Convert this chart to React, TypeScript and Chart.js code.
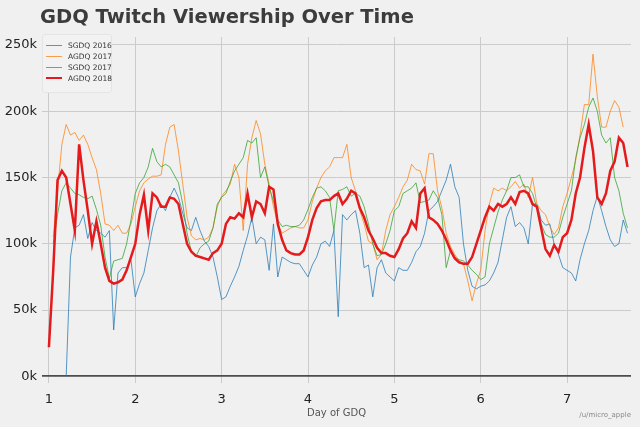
import { useEffect, useRef } from "react";
import { Chart, registerables } from "chart.js";

Chart.register(...registerables);

// x grid: every 0.05 day from day 1.00 to 7.70
const days = Array.from({ length: 135 }, (_, i) => +(1 + i * 0.05).toFixed(2));

const seriesNames = ["SGDQ 2016", "AGDQ 2017", "SGDQ 2017", "AGDQ 2018"];

// viewers, in thousands
const sgdq2016 = [
  null, null, null, null, 0, 90, 112, 114, 122, 104,
  116, 110, 108, 105, 110, 35, 78, 82, 82, 88,
  60, 70, 78, 95, 112, 125, 130, 125, 135, 142,
  135, 123, 112, 110, 120, 110, 102, 98, 90, 75,
  58, 60, 68, 75, 83, 95, 106, 120, 100, 105,
  103, 80, 115, 75, 90, 88, 86, 85, 85, 80,
  75, 84, 90, 100, 102, 98, 110, 45, 122, 118,
  122, 125, 108, 82, 84, 60, 82, 88, 78, 75,
  72, 82, 80, 80, 86, 94, 98, 108, 125, 128,
  132, 140, 148, 160, 143, 135, 100, 80, 68, 66,
  68, 69, 72, 78, 86, 103, 120, 128, 113, 116,
  112, 100, 130, 130, 118, 114, 115, 100, 92, 82,
  80, 78, 72, 88, 100, 110, 125, 136, 125, 113,
  103, 98, 100, 118, 108,
];
const agdq2017 = [
  null, 105, 140, 175, 190, 182, 184, 178, 182, 175,
  165, 156, 138, 115, 114, 110, 114, 108, 108, 115,
  128, 140, 146, 149, 151, 151, 152, 175, 188, 190,
  170, 145, 120, 106, 103, 104, 103, 105, 112, 128,
  136, 140, 145, 160, 150, 110, 160, 180, 193, 183,
  160, 145, 128, 115, 108, 110, 112, 113, 112, 112,
  118, 132, 142, 150, 155, 158, 165, 165, 165, 175,
  150, 140, 125, 115, 102, 100, 88, 92, 110, 122,
  128, 135, 143, 148, 160, 156, 155, 145, 168, 168,
  140, 127, 108, 98, 92, 87, 85, 72, 57, 70,
  80, 110, 130, 142, 140, 142, 140, 143, 147, 142,
  145, 135, 150, 130, 125, 122, 113, 107, 112, 128,
  138, 150, 163, 182, 205, 205, 243, 211, 188, 188,
  200, 208, 203, 188, null,
];
const sgdq2017 = [
  null, 100, 122, 140, 146, 142, 138, 137, 135, 134,
  136, 126, 114, 90, 74, 87, 88, 89, 100, 118,
  138, 146, 150, 158, 172, 162, 158, 160, 158, 152,
  146, 130, 108, 94, 90, 97, 100, 102, 112, 130,
  135, 138, 147, 155, 160, 165, 178, 176, 180, 150,
  158, 143, 132, 118, 113, 114, 113, 113, 114, 118,
  126, 135, 142, 143, 140, 135, 110, 140, 141, 143,
  136, 138, 136, 128, 115, 100, 91, 92, 100, 110,
  125, 128, 138, 140, 142, 146, 131, 132, 133, 140,
  135, 122, 82, 95, 90, 88, 87, 84, 80, 77,
  73, 75, 100, 112, 124, 133, 140, 150, 150, 152,
  143, 143, 138, 127, 115, 107, 105, 105, 108, 120,
  130, 140, 165, 180, 190, 203, 210, 200, 182, 176,
  180, 150, 140, 123, 112,
];
const agdq2018 = [
  22, 80, 148, 155, 150, 130, 110, 175, 148, 125,
  100, 117, 100, 82, 72, 70, 71, 73, 80, 90,
  100, 122, 137, 110, 138, 135, 128, 128, 135, 134,
  130, 115, 100, 94, 91, 90, 89, 88, 93, 95,
  100, 115, 120, 119, 123, 120, 138, 120, 132, 130,
  123, 143, 141, 115, 103, 95, 93, 92, 92, 95,
  105, 118, 127, 132, 133, 133, 136, 138, 130, 134,
  140, 138, 127, 120, 110, 104, 97, 93, 93, 91,
  90, 96, 104, 108, 117, 112, 138, 142, 120, 118,
  115, 110, 103, 95, 89, 86, 85, 85, 90, 100,
  110, 120, 128, 125, 130, 128, 130, 135, 130, 139,
  140, 138, 130, 128, 112, 96, 91, 99, 94, 105,
  108, 118, 138, 150, 172, 190, 170, 135, 130, 138,
  155, 162, 180, 176, 158,
];

const xTicks = [1, 2, 3, 4, 5, 6, 7];
const yTicks = [0, 50, 100, 150, 200, 250];

const allSeries = [sgdq2016, agdq2017, sgdq2017, agdq2018];
const colors = [
  "rgba(31,119,180,0.75)",
  "rgba(255,127,14,0.75)",
  "rgba(44,160,44,0.75)",
  "#e41a1c",
];
const widths = [1, 1, 1, 2.5];

const FONT = "'DejaVu Sans', sans-serif";

export default function App() {
  const canvasRef = useRef<HTMLCanvasElement>(null);

  useEffect(() => {
    if (!canvasRef.current) return;

    const chart = new Chart(canvasRef.current, {
      type: "line",
      data: {
        datasets: allSeries.map((vals, k) => ({
          label: seriesNames[k],
          data: vals.map((v, i) => ({ x: days[i], y: v })),
          borderColor: colors[k],
          backgroundColor: colors[k],
          borderWidth: widths[k],
          pointRadius: 0,
          tension: 0,
          spanGaps: false,
          order: allSeries.length - 1 - k,
        })),
      },
      options: {
        responsive: false,
        animation: false,
        layout: { padding: { top: 37, right: 9, bottom: 0, left: 0 } },
        plugins: {
          legend: { display: false },
          tooltip: { enabled: false },
        },
        scales: {
          x: {
            type: "linear",
            min: 0.92,
            max: 7.74,
            afterFit: (s: any) => {
              s.height = 44;
            },
            afterBuildTicks: (s: any) => {
              s.ticks = xTicks.map((v) => ({ value: v }));
            },
            grid: { color: "#cbcbcb", lineWidth: 1, drawTicks: false },
            border: { display: false },
            ticks: {
              padding: 9,
              autoSkip: false,
              maxRotation: 0,
              color: "#222",
              font: { family: FONT, size: 13 },
            },
            title: {
              display: true,
              text: "Day of GDQ",
              color: "#555",
              font: { family: FONT, size: 10 },
              padding: { top: 0, bottom: 8 },
            },
          },
          y: {
            min: -5,
            max: 256,
            afterFit: (s: any) => {
              s.width = 42;
            },
            afterBuildTicks: (s: any) => {
              s.ticks = yTicks.map((v) => ({ value: v }));
            },
            grid: {
              color: (c: any) => (c.tick && c.tick.value === 0 ? "#4d4d4d" : "#cbcbcb"),
              lineWidth: (c: any) => (c.tick && c.tick.value === 0 ? 1.8 : 1),
              drawTicks: false,
            },
            border: { display: false },
            ticks: {
              padding: 5,
              color: "#222",
              font: { family: FONT, size: 13 },
              callback: (v: any) => `${v}k`,
            },
          },
        },
      },
    });

    return () => {
      chart.destroy();
    };
  }, []);

  return (
    <div
      style={{
        position: "absolute",
        left: 0,
        top: 0,
        width: 640,
        height: 427,
        background: "#f0f0f0",
        fontFamily: FONT,
        overflow: "hidden",
      }}
    >
      <canvas ref={canvasRef} width={640} height={427} style={{ display: "block" }}></canvas>
      <div
        style={{
          position: "absolute",
          left: 40,
          top: 5,
          fontSize: 19.5,
          fontWeight: "bold",
          color: "#3c3c3c",
          whiteSpace: "nowrap",
          lineHeight: "normal",
        }}
      >
        GDQ Twitch Viewership Over Time
      </div>
      <div
        style={{
          position: "absolute",
          left: 42,
          top: 34,
          width: 70,
          height: 59,
          boxSizing: "border-box",
          background: "#f2f2f2",
          border: "1px solid #e4e4e4",
          borderRadius: 3,
        }}
      >
        {seriesNames.map((name, k) => (
          <div
            key={name}
            style={{
              position: "absolute",
              left: 0,
              top: 4.5 + 11 * k,
              height: 11,
              display: "flex",
              alignItems: "center",
            }}
          >
            <span
              style={{
                display: "inline-block",
                marginLeft: 3,
                width: 16,
                height: widths[k],
                background: colors[k],
              }}
            ></span>
            <span style={{ marginLeft: 6, fontSize: 7.5, color: "#333", lineHeight: "11px", whiteSpace: "nowrap" }}>
              {name}
            </span>
          </div>
        ))}
      </div>
      <div
        style={{
          position: "absolute",
          right: 9,
          top: 411,
          fontSize: 7,
          color: "#888",
          whiteSpace: "nowrap",
          lineHeight: "normal",
        }}
      >
        /u/micro_apple
      </div>
    </div>
  );
}
